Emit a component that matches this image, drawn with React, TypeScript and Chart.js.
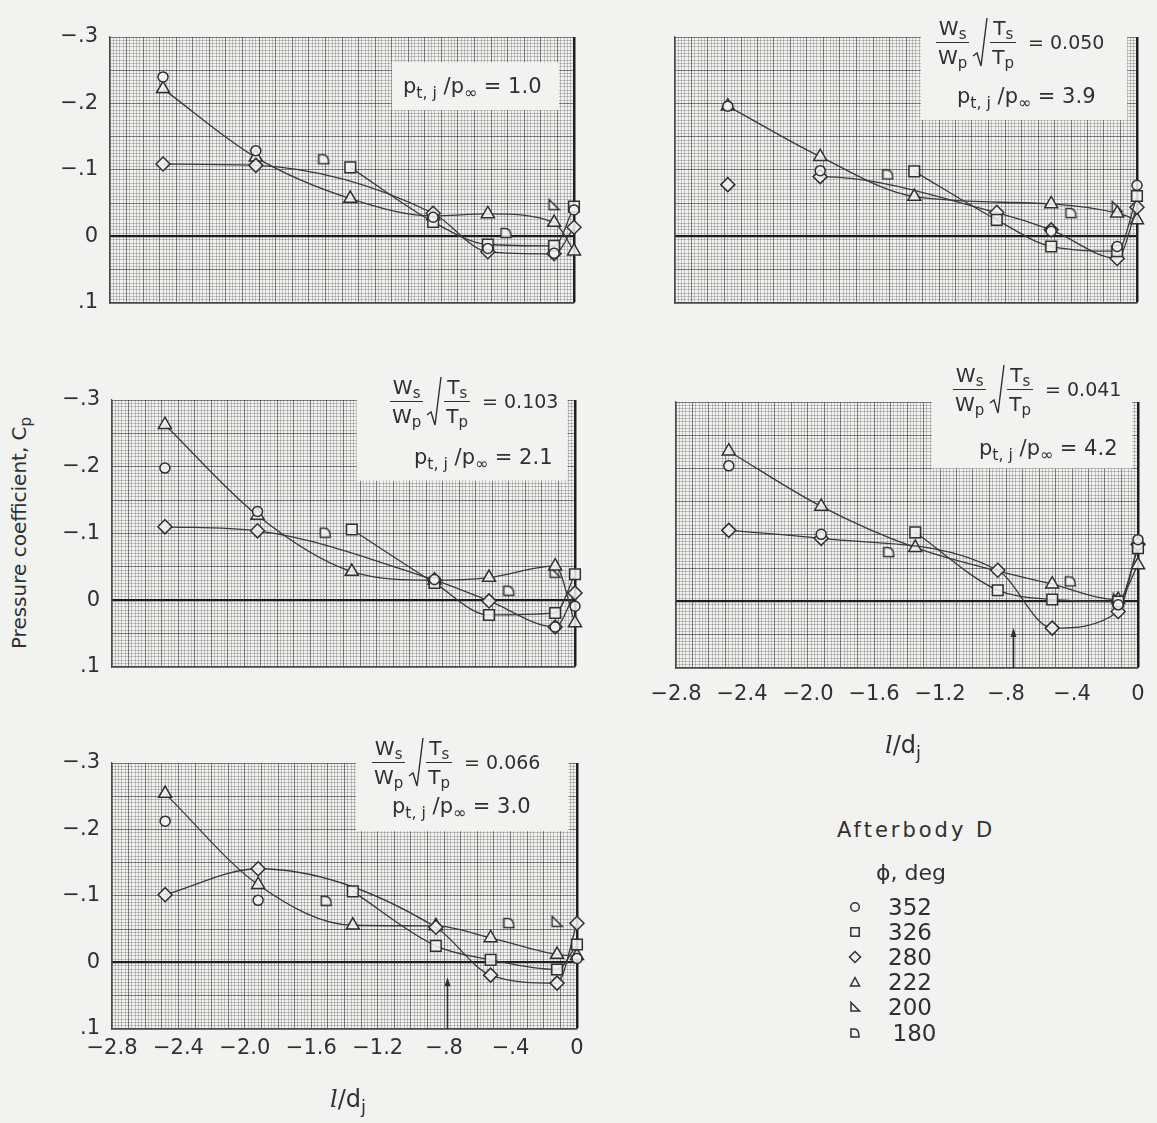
import React, { useEffect, useRef } from 'react';
import { Chart, registerables } from 'chart.js';

Chart.register(...registerables);

const BG = '#f2f2f0';
const INK = '#303030';
const LINE_COL = '#3a3a3a';
const FILL = 'rgba(243,243,241,0.85)';
const FONT = "'DejaVu Sans', 'Liberation Sans', Arial, sans-serif";

// ---------- data (l/dj , Cp) ----------
const P1_352: number[][] = [[-2.48, -0.240], [-1.92, -0.129], [-0.85, -0.029], [-0.52, 0.018], [-0.12, 0.025], [0, -0.040]];
const P1_326: number[][] = [[-1.35, -0.104], [-0.85, -0.022], [-0.52, 0.012], [-0.12, 0.014], [0, -0.045]];
const P1_280: number[][] = [[-2.48, -0.109], [-1.92, -0.107], [-0.85, -0.035], [-0.52, 0.023], [-0.12, 0.026], [0, -0.014]];
const P1_222: number[][] = [[-2.48, -0.222], [-1.92, -0.119], [-1.35, -0.057], [-0.85, -0.031], [-0.52, -0.034], [-0.12, -0.021], [0, 0.022]];
const P1_200: number[][] = [[-0.12, -0.048]];
const P1_180: number[][] = [[-1.51, -0.117], [-0.41, -0.006]];

const P2_352: number[][] = [[-2.48, -0.196], [-1.92, -0.099], [-0.52, -0.008], [-0.12, 0.015], [0, -0.077]];
const P2_326: number[][] = [[-1.35, -0.098], [-0.85, -0.025], [-0.52, 0.015], [-0.12, 0.022], [0, -0.061]];
const P2_280: number[][] = [[-2.48, -0.078], [-1.92, -0.090], [-0.85, -0.036], [-0.52, -0.010], [-0.12, 0.033], [0, -0.044]];
const P2_222: number[][] = [[-2.48, -0.196], [-1.92, -0.120], [-1.35, -0.060], [-0.52, -0.049], [-0.12, -0.035], [0, -0.025]];
const P2_200: number[][] = [[-0.12, -0.045]];
const P2_180: number[][] = [[-1.51, -0.094], [-0.40, -0.036]];

const P3_352: number[][] = [[-2.48, -0.198], [-1.92, -0.133], [-0.85, -0.031], [-0.12, 0.040], [0, 0.009]];
const P3_326: number[][] = [[-1.35, -0.106], [-0.85, -0.026], [-0.52, 0.022], [-0.12, 0.019], [0, -0.039]];
const P3_280: number[][] = [[-2.48, -0.110], [-1.92, -0.104], [-0.85, -0.030], [-0.52, 0.001], [-0.12, 0.040], [0, -0.011]];
const P3_222: number[][] = [[-2.48, -0.263], [-1.92, -0.127], [-1.35, -0.043], [-0.85, -0.030], [-0.52, -0.034], [-0.12, -0.051], [0, 0.034]];
const P3_200: number[][] = [[-0.12, -0.042]];
const P3_180: number[][] = [[-1.51, -0.102], [-0.40, -0.015]];

const P4_352: number[][] = [[-2.48, -0.204], [-1.92, -0.101], [-0.12, 0.005], [0, -0.093]];
const P4_326: number[][] = [[-1.35, -0.104], [-0.85, -0.017], [-0.52, -0.003], [-0.12, 0.000], [0, -0.080]];
const P4_280: number[][] = [[-2.48, -0.107], [-1.92, -0.095], [-0.85, -0.047], [-0.52, 0.040], [-0.12, 0.015], [0, -0.086]];
const P4_222: number[][] = [[-2.48, -0.226], [-1.92, -0.143], [-1.35, -0.081], [-0.52, -0.026], [-0.12, -0.003], [0, -0.055]];
const P4_200: number[][] = [[-0.12, -0.004]];
const P4_180: number[][] = [[-1.51, -0.075], [-0.41, -0.031]];

const P5_352: number[][] = [[-2.48, -0.2125], [-1.92, -0.0935], [0, -0.006]];
const P5_326: number[][] = [[-1.35, -0.107], [-0.85, -0.025], [-0.52, -0.004], [-0.12, 0.0105], [0, -0.027]];
const P5_280: number[][] = [[-2.48, -0.102], [-1.92, -0.141], [-0.85, -0.053], [-0.52, 0.019], [-0.12, 0.031], [0, -0.059]];
const P5_222: number[][] = [[-2.48, -0.254], [-1.92, -0.117], [-1.35, -0.056], [-0.85, -0.055], [-0.52, -0.037], [-0.12, -0.012], [0, -0.010]];
const P5_200: number[][] = [[-0.12, -0.062]];
const P5_180: number[][] = [[-1.51, -0.0935], [-0.41, -0.060]];

const PHI_LABELS = ['352', '326', '280', '222', '200', '180'];
const FLOW_RATIOS = ['', '0.050', '0.103', '0.041', '0.066'];
const PRESSURE_RATIOS = ['1.0', '3.9', '2.1', '4.2', '3.0'];
const X_LABEL_VALUES = [-2.8, -2.4, -2.0, -1.6, -1.2, -0.8, -0.4, 0];
const Y_LABEL_VALUES = [-0.3, -0.2, -0.1, 0, 0.1];

const PANEL_SERIES = [
  [P1_352, P1_326, P1_280, P1_222, P1_200, P1_180],
  [P2_352, P2_326, P2_280, P2_222, P2_200, P2_180],
  [P3_352, P3_326, P3_280, P3_222, P3_200, P3_180],
  [P4_352, P4_326, P4_280, P4_222, P4_200, P4_180],
  [P5_352, P5_326, P5_280, P5_222, P5_200, P5_180],
];

// ---------- layout / styling ----------
const LAYOUT = [
  { left: 110, top: 37, w: 464, h: 266, xLabels: false, yLabels: true, box: [-1.10, -0.09, -0.262, -0.19], arrow: null, lineFrom280: 0, xPad: 8 },
  { left: 675, top: 37, w: 462, h: 266, xLabels: false, yLabels: false, box: [-1.31, -0.06, -0.40, -0.175], arrow: null, lineFrom280: 1, xPad: 8 },
  { left: 112, top: 400, w: 463, h: 267, xLabels: false, yLabels: true, box: [-1.32, -0.045, -0.40, -0.179], arrow: null, lineFrom280: 0, xPad: 8 },
  { left: 676, top: 402, w: 462, h: 266, xLabels: true, yLabels: false, box: [-1.25, -0.035, -0.40, -0.200], arrow: [-0.76, 0.040], lineFrom280: 0, xPad: 14 },
  { left: 112, top: 763, w: 465, h: 266, xLabels: true, yLabels: true, box: [-1.33, -0.05, -0.40, -0.1975], arrow: [-0.78, 0.022], lineFrom280: 0, xPad: 7 },
];

const X_GRID: number[] = [];
for (let i = 0; i <= 140; i++) X_GRID.push(+(-2.8 + i * 0.02).toFixed(2));
const Y_GRID: number[] = [];
for (let i = 0; i <= 80; i++) Y_GRID.push(+(-0.3 + i * 0.005).toFixed(3));

const near = (v: number, m: number) => Math.abs(v / m - Math.round(v / m)) < 1e-6;
const isLabel = (v: number, list: number[]) => list.some((t) => Math.abs(t - v) < 1e-6);

const fmtNum = (v: number) => {
  const r = Math.round(v * 10) / 10;
  if (Math.abs(r) < 1e-9) return '0';
  let s = Math.abs(r).toFixed(1);
  if (s.startsWith('0')) s = s.slice(1);
  return (r < 0 ? '\u2212' : '') + s;
};

const FINE = 'rgba(70,70,70,0.28)';
const MED = 'rgba(40,40,40,0.58)';
const HEAVY = '#1e1e1e';

function makeMarker(kind: string) {
  const size = 13;
  const c = document.createElement('canvas');
  c.width = size;
  c.height = size;
  const g = c.getContext('2d')!;
  g.strokeStyle = INK;
  g.lineWidth = 1.5;
  g.fillStyle = FILL;
  const a = 1.5, b = size - 1.5;
  g.beginPath();
  if (kind === '200') {
    g.moveTo(a, a);
    g.lineTo(a, b);
    g.lineTo(b, b);
    g.closePath();
  } else {
    g.moveTo(a, b);
    g.lineTo(a, a + 1);
    g.lineTo(size * 0.42, a + 1);
    g.quadraticCurveTo(b, a + 1, b, b);
    g.closePath();
  }
  g.fill();
  g.stroke();
  return c;
}

const patchPlugin = {
  id: 'paperPatch',
  beforeDatasetsDraw(chart: any, _args: any, opts: any) {
    const b = opts.box;
    if (!b) return;
    const { x, y } = chart.scales;
    const ca = chart.chartArea;
    const x1 = x.getPixelForValue(b[0]);
    const x2 = x.getPixelForValue(b[1]);
    const y1 = Math.max(ca.top - 4, y.getPixelForValue(b[2]));
    const y2 = y.getPixelForValue(b[3]);
    const ctx = chart.ctx;
    ctx.save();
    ctx.fillStyle = BG;
    ctx.fillRect(x1, Math.min(y1, y2), x2 - x1, Math.abs(y2 - y1));
    ctx.restore();
  },
};

const arrowPlugin = {
  id: 'stationArrow',
  afterDatasetsDraw(chart: any, _args: any, opts: any) {
    const a = opts.arrow;
    if (!a) return;
    const { x, y } = chart.scales;
    const ca = chart.chartArea;
    const px = Math.round(x.getPixelForValue(a[0])) + 0.5;
    const yt = y.getPixelForValue(a[1]);
    const ctx = chart.ctx;
    ctx.save();
    ctx.strokeStyle = INK;
    ctx.fillStyle = INK;
    ctx.lineWidth = 1.6;
    ctx.beginPath();
    ctx.moveTo(px, ca.bottom);
    ctx.lineTo(px, yt + 6);
    ctx.stroke();
    ctx.beginPath();
    ctx.moveTo(px, yt);
    ctx.lineTo(px - 3, yt + 9);
    ctx.lineTo(px + 3, yt + 9);
    ctx.closePath();
    ctx.fill();
    ctx.restore();
  },
};

const PAD = { left: 4, right: 28, top: 28, bottom: 28 };
const Y_AXIS_W = 60;

function Panel({ idx }: { idx: number }) {
  const ref = useRef<HTMLCanvasElement>(null);
  const L = LAYOUT[idx];
  const xH = L.xLabels ? 40 : 0;
  const cw = PAD.left + Y_AXIS_W + L.w + PAD.right;
  const ch = PAD.top + L.h + xH + PAD.bottom;

  useEffect(() => {
    const canvas = ref.current!;
    const series = PANEL_SERIES[idx];
    const styles: any[] = [
      { ps: 'circle', r: 5, line: false },
      { ps: 'rect', r: 7.5, line: true },
      { ps: 'rectRot', r: 7, line: true },
      { ps: 'triangle', r: 7.5, line: true },
      { ps: makeMarker('200'), r: 6, line: false },
      { ps: makeMarker('180'), r: 6, line: false },
    ];
    const datasets = PHI_LABELS.map((lab, k) => {
      const st = styles[k];
      const from = k === 2 ? L.lineFrom280 : 0;
      return {
        label: lab,
        data: series[k].map(([xv, yv]) => ({ x: xv, y: yv })),
        showLine: st.line,
        borderColor: LINE_COL,
        borderWidth: 1.3,
        cubicInterpolationMode: 'monotone',
        segment: {
          borderColor: (c: any) => (c.p0DataIndex < from ? 'rgba(0,0,0,0)' : LINE_COL),
        },
        pointStyle: st.ps,
        pointRadius: st.r,
        pointHoverRadius: st.r,
        pointBorderColor: INK,
        pointBorderWidth: 1.5,
        pointBackgroundColor: FILL,
        clip: false,
      };
    });

    const chart = new Chart(canvas, {
      type: 'scatter',
      data: { datasets: datasets as any },
      plugins: [patchPlugin, arrowPlugin],
      options: {
        animation: false,
        responsive: false,
        maintainAspectRatio: false,
        devicePixelRatio: 1,
        events: [],
        layout: { padding: PAD },
        plugins: {
          legend: { display: false },
          tooltip: { enabled: false },
          paperPatch: { box: L.box },
          stationArrow: { arrow: L.arrow },
        } as any,
        scales: {
          x: {
            type: 'linear',
            min: -2.8,
            max: 0,
            afterBuildTicks: (sc: any) => {
              sc.ticks = X_GRID.map((v) => ({ value: v }));
            },
            afterFit: (sc: any) => {
              sc.height = xH;
            },
            ticks: {
              display: L.xLabels,
              autoSkip: false,
              maxRotation: 0,
              minRotation: 0,
              padding: L.xPad,
              color: INK,
              font: { family: FONT, size: 21 },
              callback: (v: any) => (isLabel(Number(v), X_LABEL_VALUES) ? fmtNum(Number(v)) : ''),
            },
            grid: {
              drawTicks: false,
              color: (c: any) => {
                const v = c.tick ? c.tick.value : -1;
                if (Math.abs(v) < 1e-9) return HEAVY;
                return near(v, 0.1) ? MED : FINE;
              },
              lineWidth: (c: any) => {
                const v = c.tick ? c.tick.value : -1;
                return Math.abs(v) < 1e-9 ? 2.5 : 1;
              },
            },
            border: { display: true, color: '#4a4a4a', width: 1.2 },
          },
          y: {
            type: 'linear',
            min: -0.3,
            max: 0.1,
            reverse: true,
            afterBuildTicks: (sc: any) => {
              sc.ticks = Y_GRID.map((v) => ({ value: v }));
            },
            afterFit: (sc: any) => {
              sc.width = Y_AXIS_W;
            },
            ticks: {
              display: L.yLabels,
              autoSkip: false,
              padding: 12,
              color: INK,
              font: { family: FONT, size: 21 },
              callback: (v: any) => (isLabel(Number(v), Y_LABEL_VALUES) ? fmtNum(Number(v)) : ''),
            },
            grid: {
              drawTicks: false,
              color: (c: any) => {
                const v = c.tick ? c.tick.value : -1;
                if (Math.abs(v) < 1e-9) return HEAVY;
                return near(v, 0.05) ? MED : FINE;
              },
              lineWidth: (c: any) => {
                const v = c.tick ? c.tick.value : -1;
                return Math.abs(v) < 1e-9 ? 2.2 : 1;
              },
            },
            border: { display: true, color: '#4a4a4a', width: 1.2 },
          },
        },
      } as any,
    });
    const ca = chart.chartArea;
    canvas.style.left = L.left - ca.left + 'px';
    canvas.style.top = L.top - ca.top + 'px';
    return () => chart.destroy();
  }, [idx]);

  return (
    <canvas
      ref={ref}
      width={cw}
      height={ch}
      style={{ position: 'absolute', left: L.left - PAD.left - Y_AXIS_W, top: L.top - PAD.top, width: cw, height: ch }}
    />
  );
}

const Sub = ({ children }: { children: any }) => (
  <span style={{ fontSize: '0.75em', position: 'relative', top: '0.32em' }}>{children}</span>
);

const Frac = ({ n, d }: { n: any; d: any }) => (
  <span style={{ display: 'inline-flex', flexDirection: 'column', alignItems: 'center', lineHeight: 1 }}>
    <span style={{ padding: '0 2px 4px' }}>{n}</span>
    <span style={{ borderTop: `1.5px solid ${INK}`, padding: '4px 2px 0', alignSelf: 'stretch', textAlign: 'center' }}>{d}</span>
  </span>
);

function FlowLine({ left, cy, value }: { left: number; cy: number; value: string }) {
  return (
    <div style={{ position: 'absolute', left, top: cy, transform: 'translateY(-50%)', display: 'flex', alignItems: 'center', whiteSpace: 'nowrap', fontFamily: FONT, fontSize: 20, color: INK, zIndex: 3 }}>
      <Frac n={<>W<Sub>s</Sub></>} d={<>W<Sub>p</Sub></>} />
      <svg width="18" height="52" style={{ margin: '0 1px 0 2px' }}>
        <path d="M2 40 L6 37 L10 50 L16 2" fill="none" stroke={INK} strokeWidth="1.4" />
      </svg>
      <Frac n={<>T<Sub>s</Sub></>} d={<>T<Sub>p</Sub></>} />
      <span style={{ marginLeft: 12, fontSize: 19 }}>= {value}</span>
    </div>
  );
}

function PressureLine({ left, cy, value }: { left: number; cy: number; value: string }) {
  return (
    <div style={{ position: 'absolute', left, top: cy, transform: 'translateY(-50%)', whiteSpace: 'nowrap', fontFamily: FONT, fontSize: 21, color: INK, zIndex: 3 }}>
      p<Sub>t, j</Sub> /p<Sub>{'\u221e'}</Sub> = {value}
    </div>
  );
}

const FLOW_POS = [null, { left: 936, cy: 42 }, { left: 390, cy: 401 }, { left: 953, cy: 389 }, { left: 372, cy: 762 }];
const PRESS_POS = [{ left: 403, cy: 86 }, { left: 957, cy: 96 }, { left: 414, cy: 457 }, { left: 979, cy: 448 }, { left: 392, cy: 806 }];

function LegendIcon({ k }: { k: number }) {
  const s = { fill: 'none', stroke: INK, strokeWidth: 1.5 };
  let el: any;
  if (k === 0) el = <circle cx="7" cy="7" r="4.3" {...s} />;
  else if (k === 1) el = <rect x="2.8" y="2.8" width="8.4" height="8.4" {...s} />;
  else if (k === 2) el = <path d="M7 1.5 L12.5 7 L7 12.5 L1.5 7 Z" {...s} />;
  else if (k === 3) el = <path d="M7 2.5 L11.5 11 L2.5 11 Z" {...s} />;
  else if (k === 4) el = <path d="M3 2.5 L3 11 L11.5 11 Z" {...s} />;
  else el = <path d="M3 11 L3 3 L6.5 3 Q11 3 11 11 Z" {...s} />;
  return <svg width="14" height="14" style={{ position: 'absolute', left: -7, top: -7 }}>{el}</svg>;
}

const LEGEND_ROWS_Y = [907, 932, 957, 982, 1007, 1033];

export default function App() {
  return (
    <div style={{ position: 'absolute', left: 0, top: 0, width: 1157, height: 1123, background: BG, overflow: 'hidden', fontFamily: FONT, color: INK }}>
      {LAYOUT.map((_, i) => (
        <Panel key={i} idx={i} />
      ))}
      {FLOW_POS.map((p, i) => (p ? <FlowLine key={'f' + i} left={p.left} cy={p.cy} value={FLOW_RATIOS[i]} /> : null))}
      {PRESS_POS.map((p, i) => (
        <PressureLine key={'p' + i} left={p.left} cy={p.cy} value={PRESSURE_RATIOS[i]} />
      ))}
      <div style={{ position: 'absolute', left: 19, top: 533, transform: 'translate(-50%,-50%) rotate(-90deg)', whiteSpace: 'nowrap', fontSize: 20 }}>
        Pressure coefficient, C<Sub>p</Sub>
      </div>
      {[{ x: 903, y: 745 }, { x: 348, y: 1099 }].map((p, i) => (
        <div key={'xt' + i} style={{ position: 'absolute', left: p.x, top: p.y, transform: 'translate(-50%,-50%)', whiteSpace: 'nowrap', fontSize: 24 }}>
          <span style={{ fontFamily: "'DejaVu Serif', serif", fontStyle: 'italic' }}>l</span>/d<Sub>j</Sub>
        </div>
      ))}
      <div style={{ position: 'absolute', left: 837, top: 830, transform: 'translateY(-50%)', fontSize: 21, letterSpacing: 3, whiteSpace: 'nowrap' }}>Afterbody D</div>
      <div style={{ position: 'absolute', left: 876, top: 872, transform: 'translateY(-50%)', fontSize: 22, whiteSpace: 'nowrap' }}>{'\u03d5'}, deg</div>
      {PHI_LABELS.map((lab, k) => (
        <div key={'lg' + k}>
          <div style={{ position: 'absolute', left: 855, top: LEGEND_ROWS_Y[k] }}>
            <LegendIcon k={k} />
          </div>
          <div style={{ position: 'absolute', left: 888, top: LEGEND_ROWS_Y[k], transform: 'translateY(-50%)', fontSize: 23, whiteSpace: 'nowrap' }}>
            {lab === '180' ? '\u2009180' : lab}
          </div>
        </div>
      ))}
    </div>
  );
}
